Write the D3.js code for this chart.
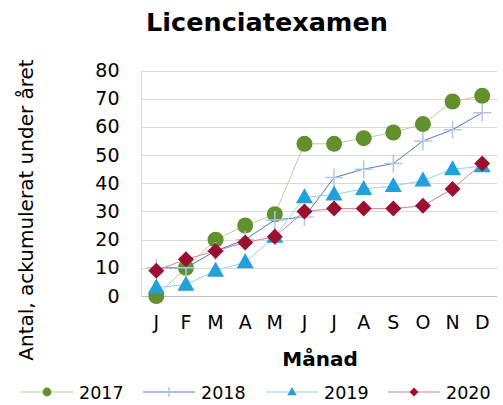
<!DOCTYPE html>
<html>
<head>
<meta charset="utf-8">
<script src="https://cdn.jsdelivr.net/npm/d3@7"></script>
<style>
  body { margin: 0; background: #fff; }
  svg { display: block; font-family: "DejaVu Sans", Verdana, sans-serif; }
</style>
</head>
<body>
<div id="chart"></div>
<script>
let months = ["J", "F", "M", "A", "M", "J", "J", "A", "S", "O", "N", "D"];
let yTicks = [0, 10, 20, 30, 40, 50, 60, 70, 80];
let years = ["2017", "2018", "2019", "2020"];
let values2017 = [0, 10, 20, 25, 29, 54, 54, 56, 58, 61, 69, 71];
let values2018 = [10, 10, 16, 20, 27, 28, 42, 45, 47, 55, 59, 65];
let values2019 = [3, 4, 9, 12, 21, 35, 36, 38, 39, 41, 45, 46];
let values2020 = [9, 13, 16, 19, 21, 30, 31, 31, 31, 32, 38, 47];

let width = 503, height = 405;
let margin = {left: 141.5, right: 6, top: 70.5, bottom: 109};

let series = [
  {name: years[0], values: values2017, marker: "circle", fill: "#61902d", line: "#b7d09c"},
  {name: years[1], values: values2018, marker: "plus", fill: "#b4c6e4", line: "#4f78c4"},
  {name: years[2], values: values2019, marker: "triangle", fill: "#22a0d9", line: "#94d3f0"},
  {name: years[3], values: values2020, marker: "diamond", fill: "#9b1030", line: "#cf8494"}
];

let svg = d3.select("#chart").append("svg")
  .attr("width", width)
  .attr("height", height);

let x = d3.scaleBand()
  .domain(d3.range(months.length))
  .range([margin.left, width - margin.right]);

let y = d3.scaleLinear()
  .domain([0, 80])
  .range([height - margin.bottom, margin.top]);

// grid
svg.append("g")
  .selectAll("line")
  .data(yTicks.slice(1))
  .join("line")
    .attr("x1", margin.left)
    .attr("x2", width - margin.right)
    .attr("y1", d => Math.round(y(d)) + 0.5)
    .attr("y2", d => Math.round(y(d)) + 0.5)
    .attr("stroke", "#d9d9d9");

// axis lines
svg.append("line")
  .attr("x1", margin.left).attr("x2", margin.left)
  .attr("y1", y(80)).attr("y2", y(0))
  .attr("stroke", "#d9d9d9");
svg.append("line")
  .attr("x1", margin.left).attr("x2", width - margin.right)
  .attr("y1", Math.round(y(0)) + 0.5).attr("y2", Math.round(y(0)) + 0.5)
  .attr("stroke", "#bfbfbf");

// y tick labels
let yAxis = svg.append("g")
  .attr("transform", `translate(${margin.left - 22},0)`)
  .call(d3.axisLeft(y).tickValues(yTicks).tickSize(0).tickPadding(0));
yAxis.select(".domain").remove();
yAxis.selectAll("text")
  .attr("font-family", "DejaVu Sans, Verdana, sans-serif")
  .attr("font-size", 19)
  .attr("fill", "#000");

// x tick labels
let xAxis = svg.append("g")
  .attr("transform", `translate(0,${height - margin.bottom + 19})`)
  .call(d3.axisBottom(x).tickFormat(i => months[i]).tickSize(0).tickPadding(0));
xAxis.select(".domain").remove();
xAxis.selectAll("text")
  .attr("font-family", "DejaVu Sans, Verdana, sans-serif")
  .attr("font-size", 19)
  .attr("fill", "#000");

// titles
svg.append("text")
  .attr("x", 267).attr("y", 31)
  .attr("text-anchor", "middle")
  .attr("font-size", 25.5)
  .attr("font-weight", "bold")
  .text("Licenciatexamen");

svg.append("text")
  .attr("x", 320).attr("y", 366)
  .attr("text-anchor", "middle")
  .attr("font-size", 20)
  .attr("font-weight", "bold")
  .text("Månad");

svg.append("text")
  .attr("transform", "translate(33,210) rotate(-90)")
  .attr("text-anchor", "middle")
  .attr("font-size", 20)
  .text("Antal, ackumulerat under året");

function drawMarker(g, type, color, s) {
  if (type === "circle") {
    g.append("circle").attr("r", 8 * s).attr("fill", color);
  } else if (type === "triangle") {
    g.append("path")
      .attr("d", `M0,${-9 * s}L${8.5 * s},${6 * s}L${-8.5 * s},${6 * s}Z`)
      .attr("fill", color);
  } else if (type === "diamond") {
    g.append("path")
      .attr("d", `M0,${-8 * s}L${8 * s},0L0,${8 * s}L${-8 * s},0Z`)
      .attr("fill", color);
  } else {
    g.append("path")
      .attr("d", `M${-9 * s},0H${9 * s}M0,${-9 * s}V${9 * s}`)
      .attr("stroke", color)
      .attr("stroke-width", 1.5);
  }
}

let line = d3.line()
  .x((d, i) => x(i) + x.bandwidth() / 2)
  .y(d => y(d));

series.forEach(s => {
  let g = svg.append("g");
  g.append("path")
    .datum(s.values)
    .attr("fill", "none")
    .attr("stroke", s.line)
    .attr("stroke-width", 1)
    .attr("d", line);
  g.selectAll("g")
    .data(s.values)
    .join("g")
      .attr("transform", (d, i) => `translate(${x(i) + x.bandwidth() / 2},${y(d)})`)
      .each(function() { drawMarker(d3.select(this), s.marker, s.fill, 1); });
});

// legend
let legendX = [21, 143, 266, 388];
let legend = svg.append("g").attr("transform", "translate(0,392)");
series.forEach((s, i) => {
  let item = legend.append("g").attr("transform", `translate(${legendX[i]},0)`);
  item.append("line")
    .attr("x1", 0).attr("x2", 52)
    .attr("stroke", s.line);
  drawMarker(item.append("g").attr("transform", "translate(26,0)"), s.marker, s.fill, 0.55);
  item.append("text")
    .attr("x", 58).attr("y", 6.5)
    .attr("font-size", 17.5)
    .text(s.name);
});
</script>
</body>
</html>
